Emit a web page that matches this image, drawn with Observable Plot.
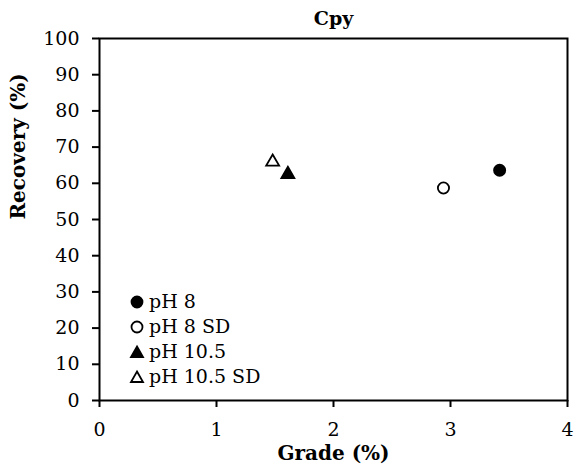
<!DOCTYPE html>
<html><head><meta charset="utf-8">
<script src="https://cdn.jsdelivr.net/npm/d3@7"></script>
<script src="https://cdn.jsdelivr.net/npm/@observablehq/plot@0.6"></script>
<style>
body{margin:0;background:#fff;}
#wrap{position:relative;width:574px;height:471px;font-family:"DejaVu Serif",serif;}
#legend{position:absolute;left:128px;top:289px;font-size:19px;line-height:25px;color:#000;}
#legend div{display:flex;align-items:center;height:25px;}
#legend svg{margin-right:3px;}
</style></head>
<body><div id="wrap"><div id="legend"></div></div>
<script>
const series = ["pH 8", "pH 8 SD", "pH 10.5", "pH 10.5 SD"];
const grade = [3.42, 2.94, 1.61, 1.48];
const recovery = [63.6, 58.7, 62.5, 65.9];
const symbols = ["circle", "circle", "triangle", "triangle"];
const fills = ["black", "white", "black", "white"];
const sizes = [5.6, 5.6, 4.8, 4.8];
const xTicks = [0, 1, 2, 3, 4];
const yTicks = [0, 10, 20, 30, 40, 50, 60, 70, 80, 90, 100];

const data = series.map((s, i) => ({series: s, grade: grade[i], recovery: recovery[i], symbol: symbols[i], fill: fills[i], r: sizes[i]}));

const chart = Plot.plot({
  width: 574, height: 471,
  marginLeft: 99, marginRight: 7, marginTop: 38, marginBottom: 71,
  style: {fontFamily: '"DejaVu Serif", serif', fontSize: "19px", color: "black", background: "white"},
  x: {domain: [0, 4], label: null},
  y: {domain: [0, 100], label: null},
  r: {type: "identity"},
  symbol: {type: "identity"},
  marks: [
    Plot.frame({stroke: "black", strokeWidth: 2}),
    Plot.axisX({ticks: xTicks, tickFormat: "d", tickSize: 7, tickPadding: 15, strokeWidth: 2, fontSize: 19}),
    Plot.axisY({ticks: yTicks, tickFormat: "d", tickSize: 7, tickPadding: 13, strokeWidth: 2, fontSize: 19}),
    Plot.dot(data, {x: "grade", y: "recovery", symbol: "symbol", fill: "fill", r: "r", stroke: "black", strokeWidth: 1.8}),
    Plot.text(["Cpy"], {frameAnchor: "top", dy: -27, text: d => d, fontWeight: "bold", fontSize: 19}),
    Plot.text(["Grade (%)"], {frameAnchor: "bottom", dy: 59, text: d => d, fontWeight: "bold", fontSize: 20}),
    Plot.text(["Recovery (%)"], {frameAnchor: "left", dx: -81, rotate: -90, text: d => d, fontWeight: "bold", fontSize: 20})
  ]
});
document.getElementById("wrap").prepend(chart);

const leg = document.getElementById("legend");
data.forEach(d => {
  const row = document.createElement("div");
  const shape = d.symbol === "circle"
    ? `<circle cx="9" cy="9" r="5.5" fill="${d.fill}" stroke="black" stroke-width="1.8"/>`
    : `<path d="M9,3.5 L15,14 L3,14 Z" fill="${d.fill}" stroke="black" stroke-width="1.8"/>`;
  row.innerHTML = `<svg width="18" height="18">${shape}</svg><span>${d.series}</span>`;
  leg.appendChild(row);
});
</script></body></html>
